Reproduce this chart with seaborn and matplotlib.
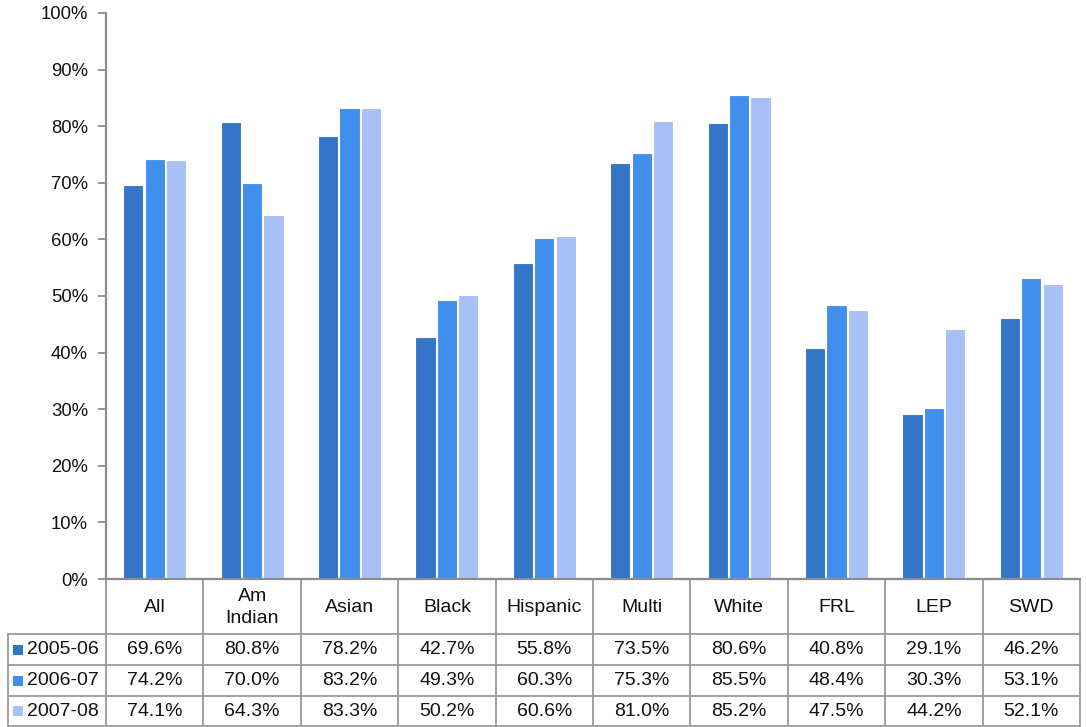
import matplotlib
matplotlib.use("Agg")
import matplotlib.pyplot as plt
import matplotlib.transforms as mtransforms
import seaborn as sns
import pandas as pd

# Graduation-style rates by student group and school year
categories = ["All", "Am\nIndian", "Asian", "Black", "Hispanic", "Multi", "White", "FRL", "LEP", "SWD"]
years = ["2005-06", "2006-07", "2007-08"]
rates_2005_06 = [69.6, 80.8, 78.2, 42.7, 55.8, 73.5, 80.6, 40.8, 29.1, 46.2]
rates_2006_07 = [74.2, 70.0, 83.2, 49.3, 60.3, 75.3, 85.5, 48.4, 30.3, 53.1]
rates_2007_08 = [74.1, 64.3, 83.3, 50.2, 60.6, 81.0, 85.2, 47.5, 44.2, 52.1]
y_ticks = [0, 10, 20, 30, 40, 50, 60, 70, 80, 90, 100]

series = [rates_2005_06, rates_2006_07, rates_2007_08]
colors = ["#3375C6", "#418FEC", "#A7C0F5"]

df = pd.DataFrame({
    "group": categories * 3,
    "year": [y for y in years for _ in categories],
    "rate": rates_2005_06 + rates_2006_07 + rates_2007_08,
})

sns.set_theme(style="white")
plt.rcParams["font.family"] = ["Liberation Sans", "DejaVu Sans"]

W, H = 1086, 727
fig = plt.figure(figsize=(W / 100, H / 100), dpi=100)
ax_left, ax_right, ax_top, ax_bottom = 106, 1080, 13, 579
ax = fig.add_axes([ax_left / W, 1 - ax_bottom / H,
                   (ax_right - ax_left) / W, (ax_bottom - ax_top) / H])

sns.barplot(data=df, x="group", y="rate", hue="year", order=categories,
            hue_order=years, palette=colors, width=0.66, gap=0.06,
            edgecolor="white", linewidth=0.8, saturation=1, legend=False, ax=ax)

ax.set_xlim(-0.5, len(categories) - 0.5)
ax.set_ylim(0, 100)
ax.set_yticks(y_ticks)
ax.set_yticklabels([f"{t}%" for t in y_ticks], fontsize=13.3, color="#111111")
ax.set_xticks([])
ax.set_xlabel("")
ax.set_ylabel("")
for side in ["top", "right"]:
    ax.spines[side].set_visible(False)
for side in ["left", "bottom"]:
    ax.spines[side].set_color("#8C8C8C")
    ax.spines[side].set_linewidth(1.6)
ax.tick_params(axis="y", left=True, length=6, width=1.3, color="#8C8C8C", pad=7)

# Data table under the plot area
ax_h = ax_bottom - ax_top
def ay(py):
    """Pixel row below the axes -> axes fraction."""
    return (ax_bottom - py) / ax_h

def ax_frac_x(px):
    return (px - ax_left) / (ax_right - ax_left)

blend = mtransforms.blended_transform_factory(ax.transData, ax.transAxes)
grid_kw = dict(color="#9A9A9A", linewidth=1.3, clip_on=False)
table_fs = 14

header_bottom = 634
row_edges = [634, 665, 696, 726]
table_left = 8

# vertical separators between category columns
for i in range(len(categories) + 1):
    x = i - 0.5
    ax.plot([x, x], [ay(ax_bottom), ay(row_edges[-1])], transform=blend, **grid_kw)
# left border of the row-label column
ax.plot([ax_frac_x(table_left)] * 2, [ay(header_bottom), ay(row_edges[-1])],
        transform=ax.transAxes, **grid_kw)
# horizontal row lines
for py in row_edges:
    ax.plot([ax_frac_x(table_left), 1], [ay(py), ay(py)],
            transform=ax.transAxes, **grid_kw)

# column headers
for i, name in enumerate(categories):
    ax.text(i, ay((ax_bottom + header_bottom) / 2 + 1), name, transform=blend,
            ha="center", va="center", fontsize=table_fs, color="#111111",
            linespacing=1.32)

# rows: legend key, year label, values
for r, (yr, vals, c) in enumerate(zip(years, series, colors)):
    yc = ay((row_edges[r] + row_edges[r + 1]) / 2)
    ax.scatter([ax_frac_x(18)], [yc], marker="s", s=42, color=c,
               transform=ax.transAxes, clip_on=False, linewidths=0)
    ax.text(ax_frac_x(27), yc, yr, transform=ax.transAxes, ha="left",
            va="center", fontsize=table_fs, color="#111111")
    for i, v in enumerate(vals):
        ax.text(i, yc, f"{v:.1f}%", transform=blend, ha="center",
                va="center", fontsize=table_fs, color="#111111")

fig.savefig("out.png", dpi=100)
